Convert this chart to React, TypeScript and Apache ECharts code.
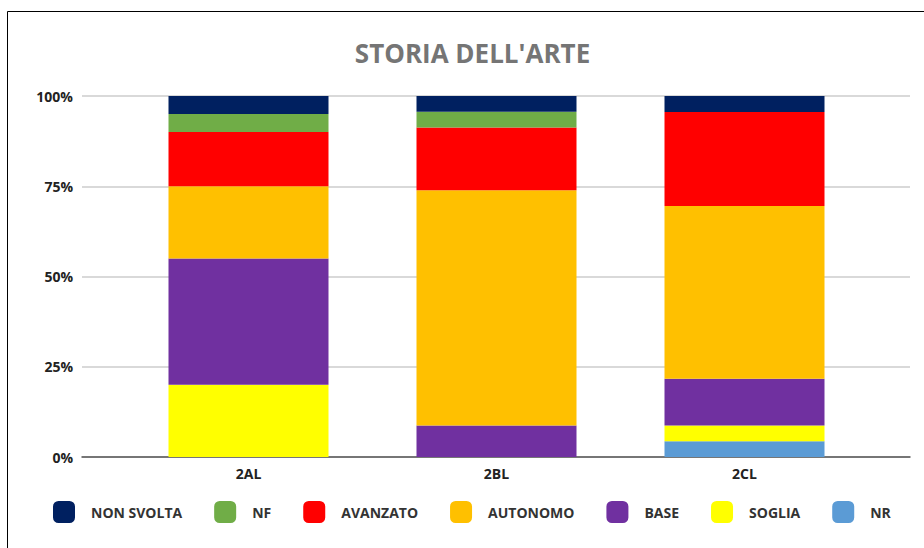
import React, { useEffect, useRef } from "react";
import * as echarts from "echarts";

const categories = ["2AL", "2BL", "2CL"];
const yTicks = [0, 25, 50, 75, 100];

// percentages per class (bottom to top of stack)
const nrValues = [0, 0, 4.35];
const sogliaValues = [20, 0, 4.35];
const baseValues = [35, 8.7, 13.0];
const autonomoValues = [20, 65.2, 47.8];
const avanzatoValues = [15, 17.4, 26.1];
const nfValues = [5, 4.35, 0];
const nonSvoltaValues = [5, 4.35, 4.4];

const seriesNames = ["NR", "SOGLIA", "BASE", "AUTONOMO", "AVANZATO", "NF", "NON SVOLTA"];
const seriesValues = [nrValues, sogliaValues, baseValues, autonomoValues, avanzatoValues, nfValues, nonSvoltaValues];
const seriesColors = ["#5B9BD5", "#FFFF00", "#7030A0", "#FFC000", "#FF0000", "#70AD47", "#002060"];
const legendOrder = ["NON SVOLTA", "NF", "AVANZATO", "AUTONOMO", "BASE", "SOGLIA", "NR"];

const FONT = "'Open Sans', 'Noto Sans', sans-serif";

export default function App() {
  const ref = useRef<HTMLDivElement>(null);

  useEffect(() => {
    if (!ref.current) return;
    const chart = echarts.init(ref.current, undefined, { renderer: "svg" });
    const option: any = {
      animation: false,
      backgroundColor: "#ffffff",
      graphic: [
        {
          type: "rect",
          shape: { x: 7.5, y: 11.5, width: 940, height: 560 },
          style: { fill: "none", stroke: "#000000", lineWidth: 1 },
          z: 10,
        },
        {
          type: "text",
          x: 472.5,
          y: 53,
          style: {
            text: "STORIA DELL'ARTE",
            fill: "#757575",
            font: `bold 26px ${FONT}`,
            align: "center",
            verticalAlign: "middle",
          },
        },
      ],
      legend: {
        data: legendOrder,
        left: 53,
        top: 501,
        padding: 0,
        itemWidth: 22,
        itemHeight: 22,
        itemGap: 32,
        icon: "roundRect",
        textStyle: {
          fontFamily: FONT,
          fontSize: 14,
          fontWeight: "bold",
          color: "#333333",
          padding: [0, 0, 0, 11],
        },
      },
      grid: [
        { left: 82, right: 14, top: 96, bottom: 91 },
        { left: 124.5, right: 55.5, top: 96, bottom: 91 },
      ],
      xAxis: [
        {
          type: "category",
          gridIndex: 0,
          data: categories,
          axisLabel: { show: false },
          axisTick: { show: false },
          axisLine: { show: true, lineStyle: { color: "#555555", width: 1.5 } },
          splitLine: { show: false },
        },
        {
          type: "category",
          gridIndex: 1,
          data: categories,
          axisLine: { show: false },
          axisTick: { show: false },
          axisLabel: {
            margin: 9,
            fontFamily: FONT,
            fontSize: 14,
            fontWeight: "bold",
            color: "#222222",
          },
        },
      ],
      yAxis: [
        {
          type: "value",
          gridIndex: 0,
          min: yTicks[0],
          max: yTicks[yTicks.length - 1],
          interval: 25,
          axisLine: { show: false },
          axisTick: { show: false },
          axisLabel: {
            margin: 9,
            formatter: "{value}%",
            fontFamily: FONT,
            fontSize: 14,
            fontWeight: "bold",
            color: "#222222",
          },
          splitLine: { show: true, lineStyle: { color: "#cccccc", width: 1.5 } },
        },
        {
          type: "value",
          gridIndex: 1,
          min: 0,
          max: 100,
          show: false,
          splitLine: { show: false },
        },
      ],
      series: seriesNames.map((name, i) => ({
        name,
        type: "bar",
        stack: "total",
        xAxisIndex: 1,
        yAxisIndex: 1,
        barWidth: 160,
        data: seriesValues[i],
        itemStyle: { color: seriesColors[i] },
        emphasis: { disabled: true },
      })),
    };
    chart.setOption(option);
    return () => chart.dispose();
  }, []);

  return (
    <div
      ref={ref}
      style={{ position: "fixed", left: 0, top: 0, width: 924, height: 548, background: "#fff" }}
    />
  );
}
